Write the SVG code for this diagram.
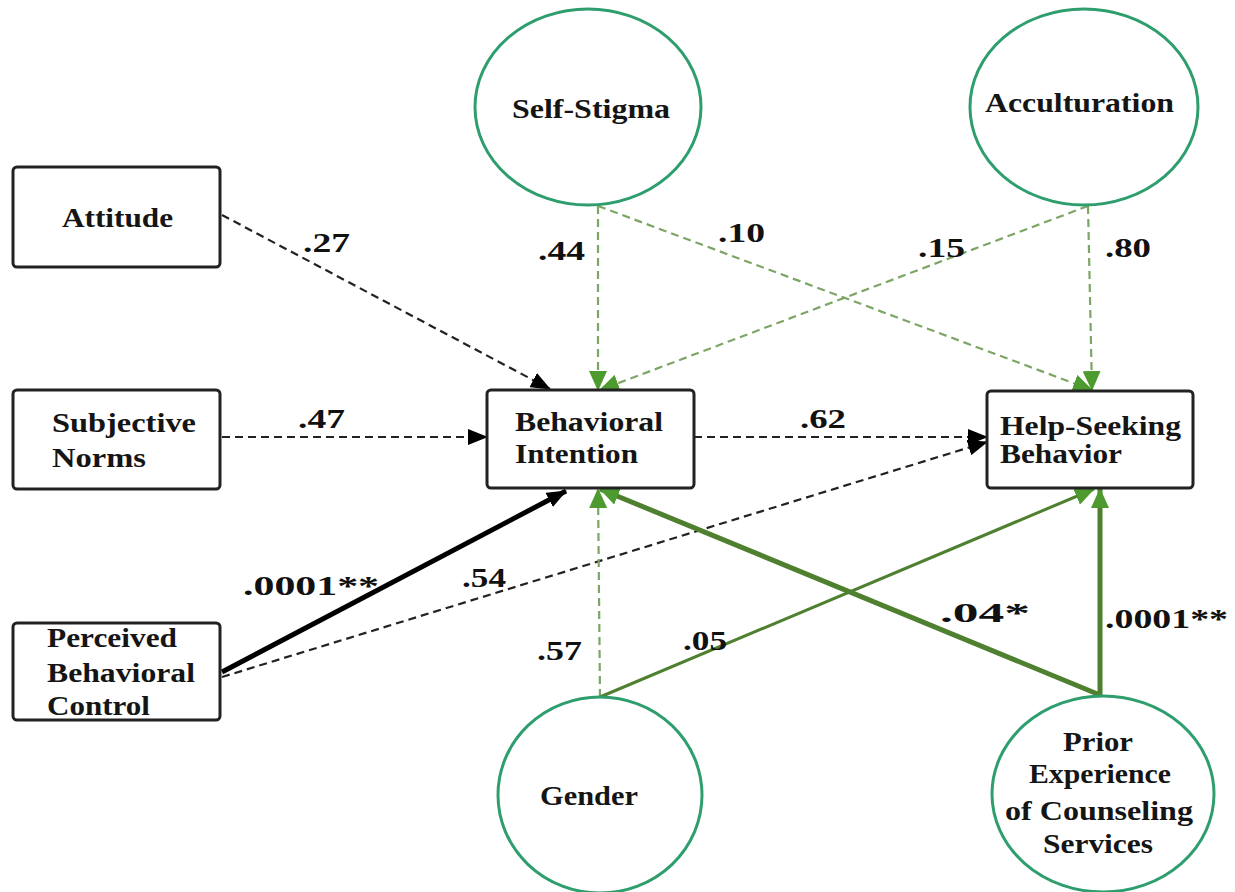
<svg xmlns="http://www.w3.org/2000/svg" width="1235" height="892" viewBox="0 0 1235 892">
<style>
.box{fill:#fff;stroke:#222;stroke-width:3}
.circ{fill:#fff;stroke:#2f9e6e;stroke-width:3}
.t{font-family:"Liberation Serif","Times New Roman",serif;font-weight:bold;font-size:28px;fill:#151515}
.lbl{font-family:"Liberation Serif","Times New Roman",serif;font-weight:bold;font-size:28px;fill:#111}
.kd{fill:none;stroke:#222;stroke-width:2.2;stroke-dasharray:8 5}
.gd{fill:none;stroke:#7da565;stroke-width:2.2;stroke-dasharray:8 5}
.ks{fill:none;stroke:#000;stroke-width:5}
.gs{fill:none;stroke:#4f8030;stroke-width:3}
.gt{fill:none;stroke:#4f8030;stroke-width:5}
</style>
<defs>
<marker id="ab" viewBox="0 0 20 16" refX="19" refY="8" markerWidth="20" markerHeight="16" orient="auto" markerUnits="userSpaceOnUse"><path d="M0,0 L20,8 L0,16 z" fill="#000"/></marker>
<marker id="ag" viewBox="0 0 20 18" refX="19" refY="9" markerWidth="20" markerHeight="18" orient="auto" markerUnits="userSpaceOnUse"><path d="M0,0 L20,9 L0,18 z" fill="#4d9a2e"/></marker>
</defs>
<rect width="1235" height="892" fill="#fff"/>
<g id="connectors">
<line class="kd" x1="222" y1="215" x2="550" y2="389" marker-end="url(#ab)"/>
<line class="kd" x1="222" y1="437" x2="487" y2="437" marker-end="url(#ab)"/>
<line class="ks" x1="222" y1="672" x2="566" y2="491" marker-end="url(#ab)"/>
<line class="kd" x1="222" y1="677" x2="987" y2="442" marker-end="url(#ab)"/>
<line class="kd" x1="694" y1="437" x2="987" y2="437" marker-end="url(#ab)"/>
<line class="gd" x1="598" y1="206" x2="598" y2="390" marker-end="url(#ag)"/>
<line class="gd" x1="598" y1="206" x2="1092" y2="390" marker-end="url(#ag)"/>
<line class="gd" x1="1088" y1="206" x2="600" y2="390" marker-end="url(#ag)"/>
<line class="gd" x1="1088" y1="206" x2="1092" y2="390" marker-end="url(#ag)"/>
<line class="gd" x1="600" y1="697" x2="598" y2="489" marker-end="url(#ag)"/>
<line class="gs" x1="600" y1="697" x2="1094" y2="489" marker-end="url(#ag)"/>
<line class="gt" x1="1100" y1="695" x2="600" y2="489" marker-end="url(#ag)"/>
<line class="gt" x1="1100" y1="695" x2="1100" y2="489" marker-end="url(#ag)"/>
</g>
<g id="labels">
<text class="lbl" x="303" y="252" textLength="47" lengthAdjust="spacingAndGlyphs">.27</text>
<text class="lbl" x="538" y="260" textLength="47" lengthAdjust="spacingAndGlyphs">.44</text>
<text class="lbl" x="718" y="242" textLength="47" lengthAdjust="spacingAndGlyphs">.10</text>
<text class="lbl" x="918" y="257" textLength="47" lengthAdjust="spacingAndGlyphs">.15</text>
<text class="lbl" x="1105" y="257" textLength="46" lengthAdjust="spacingAndGlyphs">.80</text>
<text class="lbl" x="298" y="428" textLength="47" lengthAdjust="spacingAndGlyphs">.47</text>
<text class="lbl" x="800" y="428" textLength="46" lengthAdjust="spacingAndGlyphs">.62</text>
<text class="lbl" x="243" y="595" textLength="136" lengthAdjust="spacingAndGlyphs">.0001**</text>
<text class="lbl" x="462" y="587" textLength="44" lengthAdjust="spacingAndGlyphs">.54</text>
<text class="lbl" x="537" y="660" textLength="45" lengthAdjust="spacingAndGlyphs">.57</text>
<text class="lbl" x="683" y="650" textLength="44" lengthAdjust="spacingAndGlyphs">.05</text>
<text class="lbl" x="940" y="622" textLength="90" lengthAdjust="spacingAndGlyphs">.04*</text>
<text class="lbl" x="1105" y="628" textLength="123" lengthAdjust="spacingAndGlyphs">.0001**</text>
</g>
<g id="attitude">
<rect class="box" x="13" y="167" width="207" height="100" rx="4"/>
<text class="t" x="62" y="227" textLength="111" lengthAdjust="spacingAndGlyphs">Attitude</text>
</g>
<g id="subjective-norms">
<rect class="box" x="13" y="390" width="207" height="99" rx="4"/>
<text class="t" x="52" y="432" textLength="144" lengthAdjust="spacingAndGlyphs">Subjective</text>
<text class="t" x="52" y="467" textLength="94" lengthAdjust="spacingAndGlyphs">Norms</text>
</g>
<g id="perceived-behavioral-control">
<rect class="box" x="13" y="623" width="207" height="97" rx="4"/>
<text class="t" x="47" y="647" textLength="130" lengthAdjust="spacingAndGlyphs">Perceived</text>
<text class="t" x="47" y="682" textLength="148" lengthAdjust="spacingAndGlyphs">Behavioral</text>
<text class="t" x="47" y="715" textLength="103" lengthAdjust="spacingAndGlyphs">Control</text>
</g>
<g id="behavioral-intention">
<rect class="box" x="487" y="390" width="207" height="98" rx="4"/>
<text class="t" x="515" y="431" textLength="148" lengthAdjust="spacingAndGlyphs">Behavioral</text>
<text class="t" x="515" y="463" textLength="123" lengthAdjust="spacingAndGlyphs">Intention</text>
</g>
<g id="help-seeking-behavior">
<rect class="box" x="987" y="391" width="206" height="97" rx="4"/>
<text class="t" x="1000" y="435" textLength="181" lengthAdjust="spacingAndGlyphs">Help-Seeking</text>
<text class="t" x="1000" y="463" textLength="122" lengthAdjust="spacingAndGlyphs">Behavior</text>
</g>
<g id="self-stigma">
<ellipse class="circ" cx="588" cy="107" rx="113" ry="98"/>
<text class="t" x="512" y="118" textLength="158" lengthAdjust="spacingAndGlyphs">Self-Stigma</text>
</g>
<g id="acculturation">
<ellipse class="circ" cx="1084" cy="107" rx="114" ry="98"/>
<text class="t" x="985" y="112" textLength="189" lengthAdjust="spacingAndGlyphs">Acculturation</text>
</g>
<g id="gender">
<ellipse class="circ" cx="600" cy="795" rx="102" ry="98"/>
<text class="t" x="540" y="805" textLength="98" lengthAdjust="spacingAndGlyphs">Gender</text>
</g>
<g id="prior-experience">
<ellipse class="circ" cx="1103" cy="794" rx="111" ry="98"/>
<text class="t" x="1063" y="751" textLength="70" lengthAdjust="spacingAndGlyphs">Prior</text>
<text class="t" x="1029" y="783" textLength="142" lengthAdjust="spacingAndGlyphs">Experience</text>
<text class="t" x="1005" y="820" textLength="188" lengthAdjust="spacingAndGlyphs">of Counseling</text>
<text class="t" x="1043" y="853" textLength="110" lengthAdjust="spacingAndGlyphs">Services</text>
</g>
</svg>
